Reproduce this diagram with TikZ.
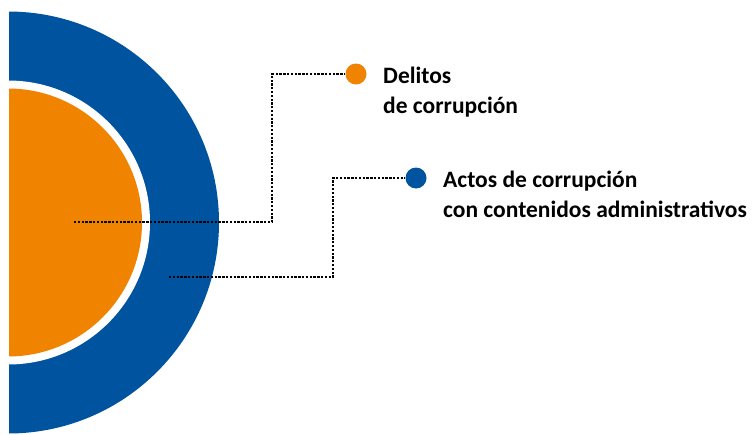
\documentclass[tikz,border=0pt]{standalone}
\usepackage{fontspec}
\setmainfont{Carlito}
\usetikzlibrary{positioning}
\definecolor{azul}{RGB}{0,83,159}
\definecolor{naranja}{RGB}{240,131,0}

\begin{document}
\begin{tikzpicture}[x=1pt,y=-1pt,
  punto/.style={circle,inner sep=0,minimum size=21pt},
  guia/.style={line width=2.6pt,dash pattern=on 2.3pt off 1.5pt},
  rotulo/.style={align=left,font=\fontsize{23.5}{30}\selectfont\bfseries,inner sep=0}]
\useasboundingbox(0,0)rectangle(755,434);
\coordinate(C)at(8,222.5);
\begin{scope}
\clip(9,0)rectangle(755,434);
\fill[azul](C)circle[radius=211pt];
\fill[white](C)circle[radius=142pt];
\fill[naranja](C)circle[radius=134pt];
\end{scope}
\coordinate(A1)at(74,222);
\coordinate(K1)at(272,74);
\coordinate(A2)at(169,277);
\coordinate(K2)at(333,178);
\node[punto,fill=naranja](D1)at(356,74){};
\node[punto,fill=azul](D2)at(416,178){};
\draw[guia](A1)-|(K1)--(D1);
\draw[guia](A2)-|(K2)--(D2);
\node[rotulo,anchor=base west](T1)at(383,113){Delitos\\de corrupción};
\node[rotulo,anchor=base west](T2)at(443,217){Actos de corrupción\\con contenidos administrativos};
\end{tikzpicture}
\end{document}
